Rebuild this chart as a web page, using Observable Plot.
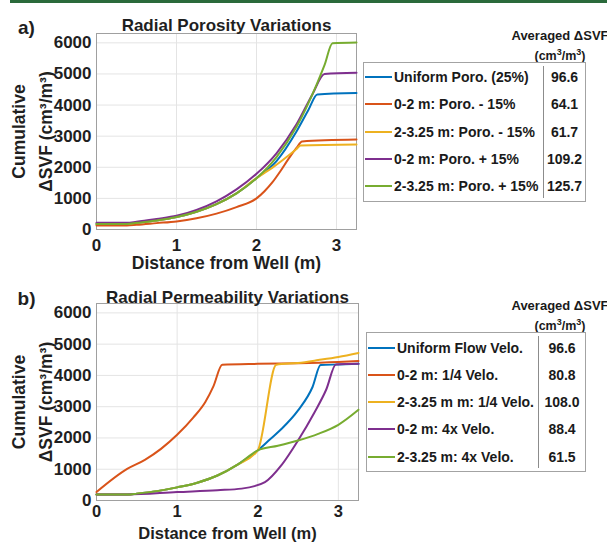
<!DOCTYPE html>
<html>
<head>
<meta charset="utf-8">
<script src="https://cdn.jsdelivr.net/npm/d3@7"></script>
<script src="https://cdn.jsdelivr.net/npm/@observablehq/plot@0.6"></script>
<style>
  html, body { margin: 0; padding: 0; background: #fff; }
  #page { position: relative; width: 607px; height: 542px; overflow: hidden; font-family: "Liberation Sans", Arial, sans-serif; font-weight: bold; color: #1a1a1a; }
  #page > .panel { position: absolute; left: 0; }
  .topbar { position: absolute; left: 10px; top: 0; width: 597px; height: 3px; background: #2a6a3b; }
  .legend { position: absolute; border: 1px solid #a3a3a3; background: #fff; box-sizing: border-box; }
  .legend .row { position: absolute; left: 0; right: 0; height: 0; }
  .legend .swatch { position: absolute; height: 2px; margin-top: -1px; }
  .legend .name { position: absolute; font-size: 14px; line-height: 14px; margin-top: -7px; white-space: nowrap; }
  .legend .val { position: absolute; font-size: 14px; line-height: 14px; margin-top: -7px; text-align: center; width: 50px; }
  .legend .divider { position: absolute; top: 3px; bottom: 3px; width: 1px; background: #8c8c8c; }
  .head { position: absolute; font-size: 13px; white-space: nowrap; text-align: center; width: 120px; line-height: 13px; }
  .head.unit { font-size: 12.5px; }
</style>
</head>
<body>
<div id="page"></div>
<script>
// Panel a) — cumulative ΔSVF for radial porosity variations, [distance (m), ΔSVF (cm³/m³)]
const poroUniform = [[0,180],[0.38,180],[0.5,215],[0.75,290],[1,400],[1.25,570],[1.5,815],[1.75,1160],[2,1650],[2.25,2200],[2.5,3150],[2.65,3850],[2.76,4340],[3.25,4385]];
const poroInnerMinus = [[0,130],[0.38,130],[0.5,150],[0.75,205],[1,260],[1.25,360],[1.5,510],[1.75,720],[2,1000],[2.1,1230],[2.2,1520],[2.3,1880],[2.4,2270],[2.5,2620],[2.57,2830],[3.25,2890]];
const poroOuterMinus = [[0,180],[0.38,180],[0.5,215],[0.75,290],[1,400],[1.25,570],[1.5,815],[1.75,1160],[2,1650],[2.1,1820],[2.2,1990],[2.3,2180],[2.4,2380],[2.5,2590],[2.55,2700],[3.25,2730]];
const poroInnerPlus = [[0,215],[0.38,215],[0.5,250],[0.75,340],[1,440],[1.25,630],[1.5,905],[1.75,1290],[2,1790],[2.25,2450],[2.5,3380],[2.7,4350],[2.85,5000],[3.25,5040]];
const poroOuterPlus = [[0,180],[0.38,180],[0.5,215],[0.75,290],[1,400],[1.25,570],[1.5,815],[1.75,1160],[2,1650],[2.25,2330],[2.5,3300],[2.75,4650],[2.85,5280],[2.95,5985],[3.25,6010]];
const poroNames = ["Uniform Poro. (25%)", "0-2 m: Poro. - 15%", "2-3.25 m: Poro. - 15%", "0-2 m: Poro. + 15%", "2-3.25 m: Poro. + 15%"];
const poroAvg = ["96.6", "64.1", "61.7", "109.2", "125.7"];

// Panel b) — cumulative ΔSVF for radial permeability (flow velocity) variations
const permUniform = [[0,190],[0.38,190],[0.5,220],[0.75,300],[1,420],[1.25,570],[1.5,800],[1.75,1150],[2,1600],[2.15,1950],[2.3,2300],[2.5,2880],[2.68,3630],[2.78,4330],[3,4350],[3.25,4370]];
const permInnerQuarter = [[0,270],[0.38,1010],[0.6,1300],[0.8,1650],[1,2100],[1.2,2650],[1.35,3150],[1.45,3650],[1.56,4340],[2,4370],[2.5,4390],[3,4430],[3.25,4460]];
const permOuterQuarter = [[0,190],[0.38,190],[0.5,220],[0.75,300],[1,420],[1.25,570],[1.5,800],[1.75,1150],[2,1600],[2.23,4340],[2.5,4400],[2.75,4490],[3,4590],[3.25,4720]];
const permInnerFour = [[0,190],[0.38,190],[1,270],[1.5,330],[1.8,380],[2.09,590],[2.3,1150],[2.5,1920],[2.7,2800],[2.85,3550],[2.97,4350],[3.25,4370]];
const permOuterFour = [[0,190],[0.38,190],[0.5,220],[0.75,300],[1,420],[1.25,570],[1.5,800],[1.75,1150],[2,1600],[2.25,1750],[2.5,1920],[2.75,2130],[3,2420],[3.25,2900]];
const permNames = ["Uniform Flow Velo.", "0-2 m: 1/4 Velo.", "2-3.25 m m: 1/4 Velo.", "0-2 m: 4x Velo.", "2-3.25 m: 4x Velo."];
const permAvg = ["96.6", "80.8", "108.0", "88.4", "61.5"];

const colors = ["#0072BD", "#D95319", "#EDB120", "#7E2F8E", "#77AC30"];
const xTicks = [0, 1, 2, 3];
const yTicks = [0, 1000, 2000, 3000, 4000, 5000, 6000];

const page = document.getElementById("page");

// single centred label placed relative to the frame
function label(text, options) {
  return Plot.text([text], {text: d => d, textAnchor: "middle", lineAnchor: "middle", fontWeight: "bold", ...options});
}

function panel({series, title, tag, top, right, height, marginBottom, titleDy, tagDy, xTickPad, xTickSize, xLabelDy, xLabelSize}) {
  const width = right + 4;
  const lines = series.map((s, i) => Plot.line(s, {x: d => d[0], y: d => d[1], stroke: colors[i], strokeWidth: 2, curve: "monotone-x"}));
  const chart = Plot.plot({
    width, height,
    marginLeft: 96, marginRight: 4, marginTop: 33, marginBottom,
    x: {domain: [0, 3.25], label: null},
    y: {domain: [0, 6300], label: null},
    style: {fontFamily: "Liberation Sans, Arial, sans-serif", fontWeight: "bold", fontSize: "17px", color: "#1f1f1f", overflow: "visible", background: "transparent"},
    marks: [
      Plot.gridX({ticks: xTicks, stroke: "#e4e4e4", strokeOpacity: 1}),
      Plot.gridY({ticks: yTicks, stroke: "#e4e4e4", strokeOpacity: 1}),
      Plot.frame({stroke: "#a0a0a0"}),
      Plot.axisX({ticks: xTicks, tickSize: 0, tickPadding: xTickPad, tickFormat: d => String(d), fontSize: xTickSize}),
      Plot.axisY({ticks: yTicks, tickSize: 0, tickPadding: 5, tickFormat: d => String(d), fontSize: 17}),
      ...lines,
      label(title, {frameAnchor: "top", dy: titleDy, fontSize: 17}),
      label(tag, {frameAnchor: "top-left", dx: -70, dy: tagDy, fontSize: 19}),
      label("Distance from Well (m)", {frameAnchor: "bottom", dy: xLabelDy, fontSize: xLabelSize}),
      label("Cumulative", {frameAnchor: "left", dx: -77, rotate: -90, fontSize: 17.5}),
      label("ΔSVF (cm³/m³)", {frameAnchor: "left", dx: -50, rotate: -90, fontSize: 17.5})
    ]
  });
  chart.classList.add("panel");
  chart.style.top = top + "px";
  page.appendChild(chart);
}

function legend({names, avg, left, top, width, height, firstRow, divider, headTop}) {
  const head = d3.select(page);
  head.append("div").attr("class", "head").style("left", (560 - 60) + "px").style("top", (headTop - 6) + "px").text("Averaged ΔSVF");
  head.append("div").attr("class", "head unit").style("left", (560 - 60) + "px").style("top", (headTop + 11) + "px").html("(cm<sup style='font-size:9px'>3</sup>/m<sup style='font-size:9px'>3</sup>)");
  const box = head.append("div").attr("class", "legend")
    .style("left", left + "px").style("top", top + "px")
    .style("width", width + "px").style("height", height + "px");
  box.append("div").attr("class", "divider").style("left", divider + "px");
  names.forEach((n, i) => {
    const row = box.append("div").attr("class", "row").style("top", (firstRow + i * 27.3) + "px");
    row.append("div").attr("class", "swatch").style("left", "1px").style("width", "27px").style("background", colors[i]);
    row.append("div").attr("class", "name").style("left", "30px").text(n);
    row.append("div").attr("class", "val").style("left", (divider + (width - 1 - divider) / 2 - 25) + "px").text(avg[i]);
  });
}

panel({series: [poroUniform, poroInnerMinus, poroOuterMinus, poroInnerPlus, poroOuterPlus],
  title: "Radial Porosity Variations", tag: "a)", top: 0, right: 356, height: 270, marginBottom: 41,
  titleDy: -8, tagDy: -6, xTickPad: 9, xTickSize: 17, xLabelDy: 34, xLabelSize: 17.5});
panel({series: [permUniform, permInnerQuarter, permOuterQuarter, permInnerFour, permOuterFour],
  title: "Radial Permeability Variations", tag: "b)", top: 270, right: 358, height: 272, marginBottom: 42,
  titleDy: -6, tagDy: -5, xTickPad: 5, xTickSize: 16.5, xLabelDy: 33, xLabelSize: 16.5});

legend({names: poroNames, avg: poroAvg, left: 363, top: 62, width: 223, height: 140, firstRow: 14, divider: 179, headTop: 35});
legend({names: permNames, avg: permAvg, left: 366, top: 332, width: 220, height: 140, firstRow: 14.5, divider: 171, headTop: 305});

d3.select(page).append("div").attr("class", "topbar");
</script>
</body>
</html>
